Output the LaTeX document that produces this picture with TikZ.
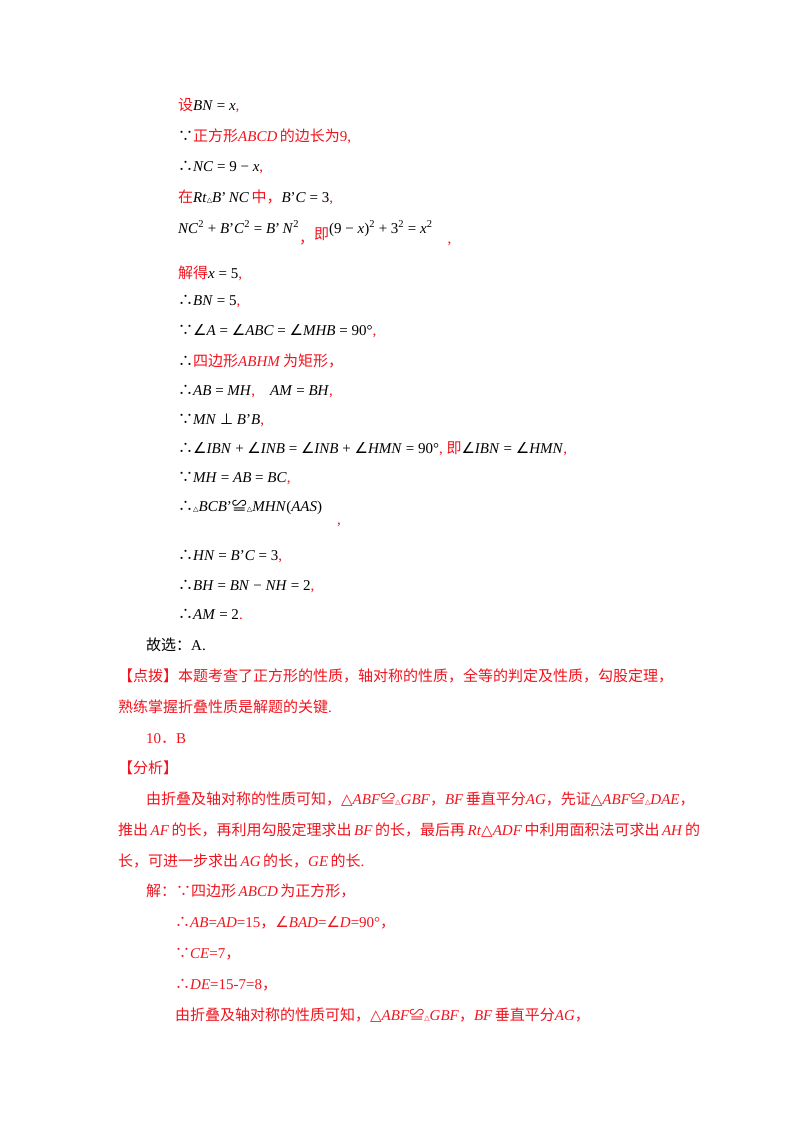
\documentclass[tikz,border=0pt]{standalone}
\usepackage{fontspec}
\setmainfont{Liberation Serif}
\newfontfamily\cjk{Noto Sans CJK SC}
\newfontfamily\djsym{DejaVu Sans}
\newcommand{\z}[1]{{\cjk #1}}
\newcommand{\m}[1]{\textit{#1}}
\newcommand{\sy}[1]{{\djsym #1}}
\newcommand{\cs}[1]{{\cjk #1}}
\newcommand{\lowc}[2]{\smash{\raisebox{#1}{#2}}}
\definecolor{rd}{RGB}{240,20,30}
\begin{document}
\begin{tikzpicture}[x=1pt,y=-1pt,
  t/.style={anchor=base west,inner sep=0pt,font=\fontsize{15}{18}\selectfont},
  r/.style={t,text=rd}]
\useasboundingbox (0,0) rectangle (800,1132);
\begin{scope}[yshift=-5pt]
\node[t] (l1) at (178,105) {\textcolor{rd}{\z{设}}\m{BN} = \m{x}\textcolor{rd}{,}};
\node[t] (l2) at (178,136) {\cs{∵}\textcolor{rd}{\z{正方形}\m{ABCD}\,\z{的边长为}9,}};
\node[t] (l3) at (178,166) {\cs{∴}\m{NC} = 9 − \m{x}\textcolor{rd}{,}};
\node[t] (l4) at (178,197) {\textcolor{rd}{\z{在}}\m{Rt}{\scriptsize\sy{△}}\m{B}'\,\m{NC}\,\textcolor{rd}{\z{中，}}\m{B}'\m{C} = 3\textcolor{rd}{,}};
\node[t] (l5) at (178,228) {\m{NC}\textsuperscript{2} + \m{B}'\m{C}\textsuperscript{2} = \m{B}'\,\m{N}\textsuperscript{2}\textcolor{rd}{\lowc{-10pt}{\z{，}}}\textcolor{rd}{\lowc{-6pt}{\z{即}}}(9 − \m{x})\textsuperscript{2} + 3\textsuperscript{2} = \m{x}\textsuperscript{2}\quad\textcolor{rd}{\lowc{-10pt}{,}}};
\node[t] (l6) at (178,273) {\textcolor{rd}{\z{解得}}\m{x} = 5\textcolor{rd}{,}};
\node[t] (l7) at (178,300) {\cs{∴}\m{BN} = 5\textcolor{rd}{,}};
\node[t] (l8) at (178,330) {\cs{∵}\sy{∠}\m{A} = \sy{∠}\m{ABC} = \sy{∠}\m{MHB} = 90°\textcolor{rd}{,}};
\node[t] (l9) at (178,361) {\cs{∴}\textcolor{rd}{\z{四边形}\m{ABHM}\,\z{为矩形}\z{，}}};
\node[t] (l10) at (178,390) {\cs{∴}\m{AB} = \m{MH}\textcolor{rd}{,}\quad \m{AM} = \m{BH}\textcolor{rd}{,}};
\node[t] (l11) at (178,419) {\cs{∵}\m{MN} \sy{⊥} \m{B}'\m{B}\textcolor{rd}{,}};
\node[t] (l12) at (178,448) {\cs{∴}\sy{∠}\m{IBN} + \sy{∠}\m{INB} = \sy{∠}\m{INB} + \sy{∠}\m{HMN} = 90°\textcolor{rd}{,}\ \textcolor{rd}{\z{即}}\sy{∠}\m{IBN} = \sy{∠}\m{HMN}\textcolor{rd}{,}};
\node[t] (l13) at (178,477) {\cs{∵}\m{MH} = \m{AB} = \m{BC}\textcolor{rd}{,}};
\node[t] (l14) at (178,506) {\cs{∴}{\scriptsize\sy{△}}\m{BCB}'\cs{≌}{\scriptsize\sy{△}}\m{MHN}(\m{AAS})\quad\textcolor{rd}{\lowc{-13pt}{,}}};
\node[t] (l15) at (178,555) {\cs{∴}\m{HN} = \m{B}'\m{C} = 3\textcolor{rd}{,}};
\node[t] (l16) at (178,585) {\cs{∴}\m{BH} = \m{BN} − \m{NH} = 2\textcolor{rd}{,}};
\node[t] (l17) at (178,614) {\cs{∴}\m{AM} = 2\textcolor{rd}{.}};
\node[t] (l18) at (146,645) {\z{故选：}A.};
\node[r] (l19) at (118,676) {\z{【点拨】本题考查了正方形的性质，轴对称的性质，全等的判定及性质，勾股定理，}};
\node[r] (l20) at (118,707) {\z{熟练掌握折叠性质是解题的关键}.};
\node[r] (l21) at (146,738) {10\z{．}B};
\node[r] (l22) at (118,768) {\z{【分析】}};
\node[r] (l23) at (146,799) {\z{由折叠及轴对称的性质可知，}\sy{△}\m{ABF}\cs{≌}{\scriptsize\sy{△}}\m{GBF}\z{，}\m{BF}\,\z{垂直平分}\m{AG}\z{，先证}\sy{△}\m{ABF}\cs{≌}{\scriptsize\sy{△}}\m{DAE}\z{，}};
\node[r] (l24) at (118,830) {\z{推出}\,\m{AF}\,\z{的长，再利用勾股定理求出}\,\m{BF}\,\z{的长，最后再}\,\m{Rt}\sy{△}\m{ADF}\,\z{中利用面积法可求出}\,\m{AH}\,\z{的}};
\node[r] (l25) at (118,861) {\z{长，可进一步求出}\,\m{AG}\,\z{的长，}\m{GE}\,\z{的长}.};
\node[r] (l26) at (146,891) {\z{解：∵四边形}\,\m{ABCD}\,\z{为正方形，}};
\node[r] (l27) at (175,922) {\cs{∴}\m{AB}=\m{AD}=15\z{，}\sy{∠}\m{BAD}=\sy{∠}\m{D}=90°\z{，}};
\node[r] (l28) at (175,953) {\cs{∵}\m{CE}=7\z{，}};
\node[r] (l29) at (175,984) {\cs{∴}\m{DE}=15-7=8\z{，}};
\node[r] (l30) at (175,1015) {\z{由折叠及轴对称的性质可知，}\sy{△}\m{ABF}\cs{≌}{\scriptsize\sy{△}}\m{GBF}\z{，}\m{BF}\,\z{垂直平分}\m{AG}\z{，}};
\end{scope}
\end{tikzpicture}
\end{document}
